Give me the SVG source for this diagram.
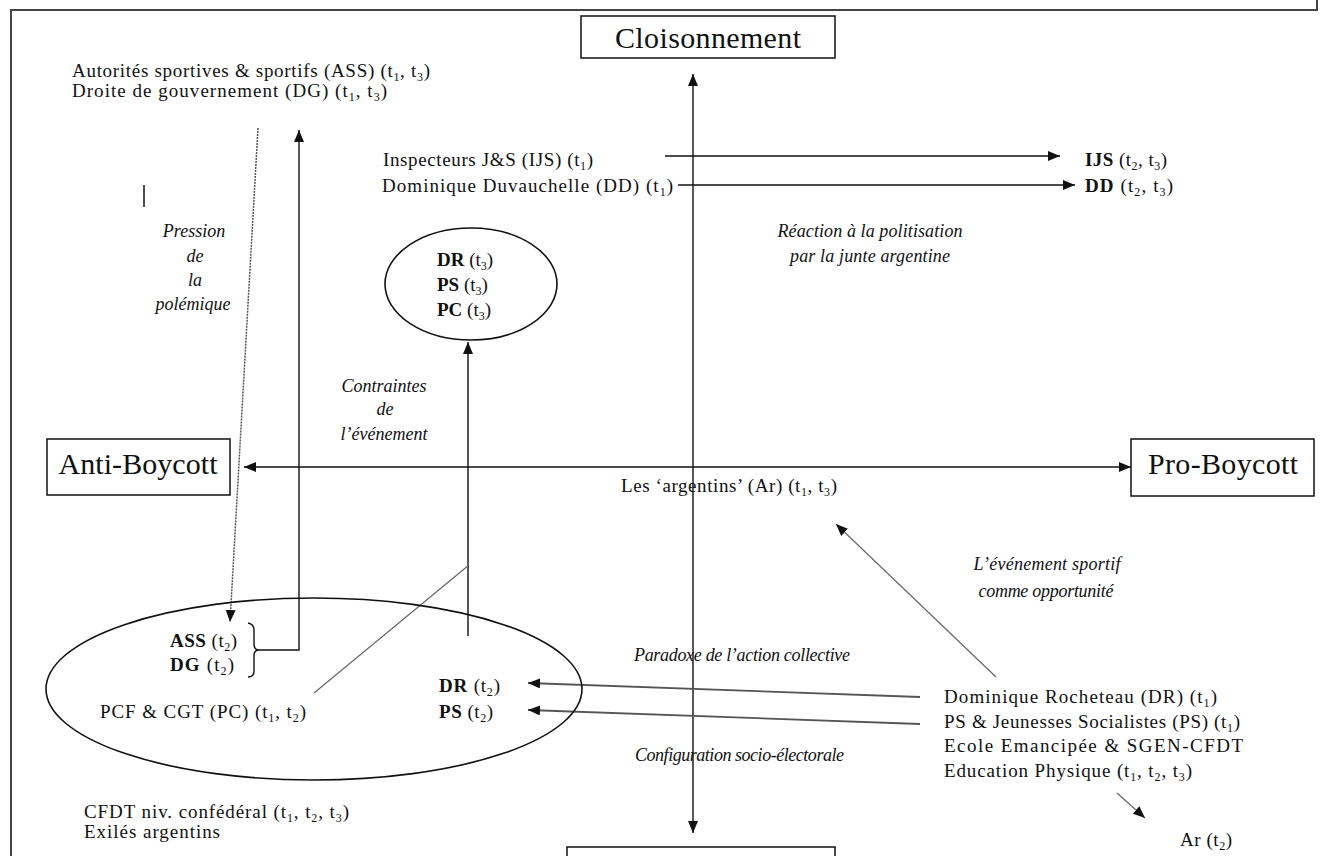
<svg xmlns="http://www.w3.org/2000/svg" width="1323" height="856" viewBox="0 0 1323 856">
<style>
text{font-family:"Liberation Serif","Times New Roman",serif;fill:#111;}
.t{font-size:19px;}
.b{font-weight:bold;}
.i{font-size:18px;font-style:italic;}
.big{font-size:30px;}
.s{font-size:12px;}
.box{fill:#fff;stroke:#111;stroke-width:1.5;}
.ell{fill:none;stroke:#111;stroke-width:1.6;}
.c{fill:none;stroke:#111;stroke-width:1.4;}
.g{fill:none;stroke:#555;stroke-width:1.8;}
.dot{fill:none;stroke:#555;stroke-width:1.5;stroke-dasharray:2 1;}
.thin{fill:none;stroke:#666;stroke-width:1.2;}
</style>
<defs>
<marker id="ah" viewBox="0 0 12 10" markerWidth="12" markerHeight="10" refX="12" refY="5" orient="auto-start-reverse" markerUnits="userSpaceOnUse">
<path d="M0,0 L12,5 L0,10 z" fill="#111"/>
</marker>
</defs>
<rect x="0" y="0" width="1323" height="856" fill="#fff"/>
<path d="M11,856 V10 H1317 V0" fill="none" stroke="#444" stroke-width="2"/>

<g id="connectors">
<line class="c" x1="693" y1="74" x2="693" y2="833" marker-start="url(#ah)" marker-end="url(#ah)"/>
<line class="c" x1="244" y1="467" x2="1131" y2="467" marker-start="url(#ah)" marker-end="url(#ah)"/>
<path class="c" d="M665,156 H1060" marker-end="url(#ah)"/>
<path class="c" d="M678,185 H1075" marker-end="url(#ah)"/>
<path class="dot" d="M258,128 L230,622" marker-end="url(#ah)"/>
<path class="c" d="M248,623 Q254,624 254,630 V644 Q254,650 259,650 Q254,650 254,656 V671 Q254,677 248,677"/>
<path class="c" d="M259,650 H299 V130" marker-end="url(#ah)"/>
<path class="c" d="M468,636 V342" marker-end="url(#ah)"/>
<path class="thin" d="M314,693 L469,565"/>
<path class="g" d="M920,697 L528,683" marker-end="url(#ah)"/>
<path class="g" d="M920,724 L528,710" marker-end="url(#ah)"/>
<path class="thin" d="M996,677 L836,524" marker-end="url(#ah)"/>
<path class="thin" d="M1117,793 L1145,818" marker-end="url(#ah)"/>
<line x1="144" y1="185" x2="144" y2="207" stroke="#111" stroke-width="1.5"/>
</g>

<g id="cloisonnement">
<rect class="box" x="581" y="16" width="254" height="42"/>
<text class="big" x="708" y="48" text-anchor="middle" textLength="186">Cloisonnement</text>
</g>
<g id="anti-boycott">
<rect class="box" x="47" y="439" width="183" height="56"/>
<text class="big" x="138" y="474" text-anchor="middle" textLength="159">Anti-Boycott</text>
</g>
<g id="pro-boycott">
<rect class="box" x="1131" y="439" width="183" height="57"/>
<text class="big" x="1223" y="474" text-anchor="middle" textLength="150">Pro-Boycott</text>
</g>
<g id="bottom-box">
<rect class="box" x="567" y="847" width="268" height="30"/>
</g>

<g id="ass-dg-top">
<text class="t" x="72" y="77" textLength="358">Autorités sportives &amp; sportifs (ASS) (t<tspan class="s" dy="4">1</tspan><tspan dy="-4">, t</tspan><tspan class="s" dy="4">3</tspan><tspan dy="-4">)</tspan></text>
<text class="t" x="72" y="97" textLength="315">Droite de gouvernement (DG) (t<tspan class="s" dy="4">1</tspan><tspan dy="-4">, t</tspan><tspan class="s" dy="4">3</tspan><tspan dy="-4">)</tspan></text>
</g>

<g id="ijs-dd-left">
<text class="t" x="383" y="166" textLength="210">Inspecteurs J&amp;S (IJS) (t<tspan class="s" dy="4">1</tspan><tspan dy="-4">)</tspan></text>
<text class="t" x="382" y="192" textLength="291">Dominique Duvauchelle (DD) (t<tspan class="s" dy="4">1</tspan><tspan dy="-4">)</tspan></text>
</g>

<g id="ijs-dd-right">
<text class="t" x="1085" y="166" textLength="82"><tspan class="b">IJS</tspan> (t<tspan class="s" dy="4">2</tspan><tspan dy="-4">, t</tspan><tspan class="s" dy="4">3</tspan><tspan dy="-4">)</tspan></text>
<text class="t" x="1085" y="192" textLength="88"><tspan class="b">DD</tspan> (t<tspan class="s" dy="4">2</tspan><tspan dy="-4">, t</tspan><tspan class="s" dy="4">3</tspan><tspan dy="-4">)</tspan></text>
</g>

<g id="label-reaction">
<text class="i" x="870" y="237" text-anchor="middle" textLength="185">Réaction à la politisation</text>
<text class="i" x="870" y="262" text-anchor="middle" textLength="160">par la junte argentine</text>
</g>

<g id="label-pression">
<text class="i" x="194" y="237" text-anchor="middle">Pression</text>
<text class="i" x="195" y="262" text-anchor="middle">de</text>
<text class="i" x="195" y="286" text-anchor="middle">la</text>
<text class="i" x="193" y="310" text-anchor="middle">polémique</text>
</g>

<g id="t3-ellipse">
<ellipse class="ell" cx="471" cy="284" rx="86" ry="56"/>
<text class="t" x="437" y="266"><tspan class="b">DR</tspan> (t<tspan class="s" dy="4">3</tspan><tspan dy="-4">)</tspan></text>
<text class="t" x="437" y="291"><tspan class="b">PS</tspan> (t<tspan class="s" dy="4">3</tspan><tspan dy="-4">)</tspan></text>
<text class="t" x="437" y="316"><tspan class="b">PC</tspan> (t<tspan class="s" dy="4">3</tspan><tspan dy="-4">)</tspan></text>
</g>

<g id="label-contraintes">
<text class="i" x="384" y="392" text-anchor="middle">Contraintes</text>
<text class="i" x="385" y="415" text-anchor="middle">de</text>
<text class="i" x="384" y="440" text-anchor="middle">l’événement</text>
</g>

<g id="argentins">
<text class="t" x="621" y="492" textLength="216">Les ‘argentins’ (Ar) (t<tspan class="s" dy="4">1</tspan><tspan dy="-4">, t</tspan><tspan class="s" dy="4">3</tspan><tspan dy="-4">)</tspan></text>
</g>

<g id="label-evenement">
<text class="i" x="1047" y="570" text-anchor="middle" textLength="147">L’événement sportif</text>
<text class="i" x="1046" y="597" text-anchor="middle" textLength="135">comme opportunité</text>
</g>

<g id="label-paradoxe">
<text class="i" x="634" y="661" textLength="216">Paradoxe de l’action collective</text>
</g>
<g id="label-configuration">
<text class="i" x="635" y="761" textLength="209">Configuration socio-électorale</text>
</g>

<g id="t2-ellipse">
<ellipse class="ell" cx="314" cy="689" rx="268" ry="91"/>
<text class="t" x="170" y="647" textLength="67"><tspan class="b">ASS</tspan> (t<tspan class="s" dy="4">2</tspan><tspan dy="-4">)</tspan></text>
<text class="t" x="170" y="671" textLength="64"><tspan class="b">DG</tspan> (t<tspan class="s" dy="4">2</tspan><tspan dy="-4">)</tspan></text>
<text class="t" x="100" y="718" textLength="206">PCF &amp; CGT (PC) (t<tspan class="s" dy="4">1</tspan><tspan dy="-4">, t</tspan><tspan class="s" dy="4">2</tspan><tspan dy="-4">)</tspan></text>
<text class="t" x="439" y="692" textLength="61"><tspan class="b">DR</tspan> (t<tspan class="s" dy="4">2</tspan><tspan dy="-4">)</tspan></text>
<text class="t" x="439" y="718" textLength="54"><tspan class="b">PS</tspan> (t<tspan class="s" dy="4">2</tspan><tspan dy="-4">)</tspan></text>
</g>

<g id="cfdt-exiles">
<text class="t" x="84" y="818" textLength="265">CFDT niv. confédéral (t<tspan class="s" dy="4">1</tspan><tspan dy="-4">, t</tspan><tspan class="s" dy="4">2</tspan><tspan dy="-4">, t</tspan><tspan class="s" dy="4">3</tspan><tspan dy="-4">)</tspan></text>
<text class="t" x="84" y="838" textLength="136">Exilés argentins</text>
</g>

<g id="pro-actors">
<text class="t" x="944" y="703" textLength="273">Dominique Rocheteau (DR) (t<tspan class="s" dy="4">1</tspan><tspan dy="-4">)</tspan></text>
<text class="t" x="944" y="728" textLength="296">PS &amp; Jeunesses Socialistes (PS) (t<tspan class="s" dy="4">1</tspan><tspan dy="-4">)</tspan></text>
<text class="t" x="944" y="752" textLength="299">Ecole Emancipée &amp; SGEN-CFDT</text>
<text class="t" x="944" y="777" textLength="248">Education Physique (t<tspan class="s" dy="4">1</tspan><tspan dy="-4">, t</tspan><tspan class="s" dy="4">2</tspan><tspan dy="-4">, t</tspan><tspan class="s" dy="4">3</tspan><tspan dy="-4">)</tspan></text>
</g>

<g id="ar-t2">
<text class="t" x="1180" y="846" textLength="52">Ar (t<tspan class="s" dy="4">2</tspan><tspan dy="-4">)</tspan></text>
</g>
</svg>
